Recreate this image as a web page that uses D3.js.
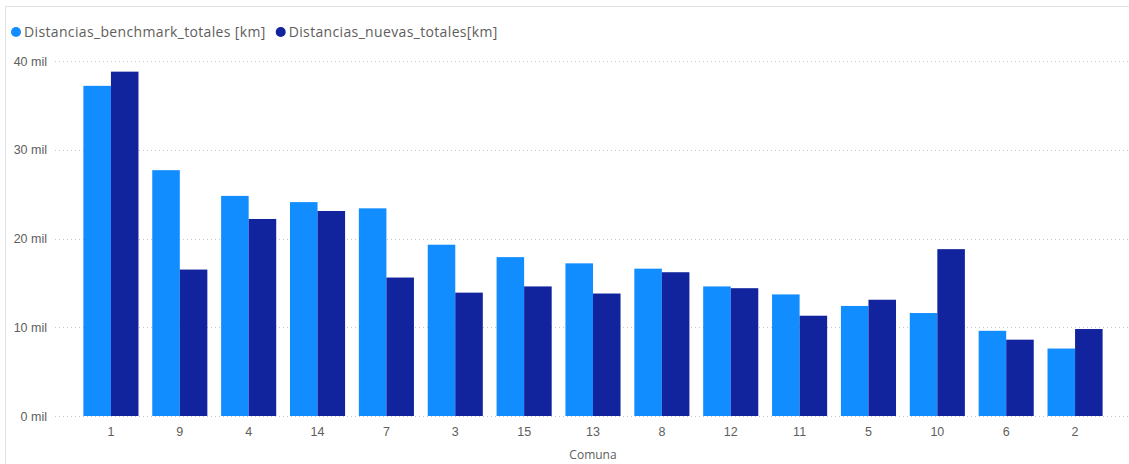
<!DOCTYPE html>
<html><head><meta charset="utf-8">
<script src="https://cdn.jsdelivr.net/npm/d3@7"></script>
<style>html,body{margin:0;padding:0;background:#fff;}svg{display:block;font-family:"Open Sans","Noto Sans",sans-serif;}</style>
</head><body>
<svg id="chart" width="1129" height="464"></svg>
<script>
const categories = ["1","9","4","14","7","3","15","13","8","12","11","5","10","6","2"];
const benchmark = [37200,27700,24800,24100,23400,19300,17900,17200,16600,14600,13700,12400,11600,9600,7600];
const nuevas = [38800,16500,22200,23100,15600,13900,14600,13800,16200,14400,11300,13100,18800,8600,9800];
const seriesNames = ["Distancias_benchmark_totales [km]","Distancias_nuevas_totales[km]"];
const colors = ["#118DFF","#12239E"];
const yTicks = [0,10000,20000,30000,40000];

const svg = d3.select("#chart");
// frame
svg.append("path").attr("d","M5.5,464 L5.5,6.5 L1129,6.5").attr("fill","none").attr("stroke","#e3e3e3").attr("stroke-width",1);

const x = d3.scaleBand().domain(categories).range([76.5,1109.5]).paddingInner(0.2).paddingOuter(0.1);
const x1 = d3.scaleBand().domain([0,1]).range([0,x.bandwidth()]);
const y = d3.scaleLinear().domain([0,40000]).range([416,61]);

// grid
svg.append("g").selectAll("line").data(yTicks).join("line")
  .attr("x1",55).attr("x2",1129).attr("y1",d=>Math.round(y(d))+0.5).attr("y2",d=>Math.round(y(d))+0.5)
  .attr("stroke","#c8c8c8").attr("stroke-width",1).attr("stroke-dasharray","1,3");

// y axis
const yAxis = d3.axisLeft(y).tickValues(yTicks).tickSize(0).tickPadding(0).tickFormat(d=>(d/1000)+" mil");
const gy = svg.append("g").attr("transform","translate(47,0)").call(yAxis);
gy.select(".domain").remove();
gy.selectAll("text").attr("fill","#605E5C").style("font-size","12.5px");

// bars
const data = categories.map((c,i)=>({c, vals:[benchmark[i],nuevas[i]]}));
const groups = svg.append("g").selectAll("g").data(data).join("g").attr("transform",d=>`translate(${x(d.c)},0)`);
groups.selectAll("rect").data(d=>d.vals.map((v,k)=>({v,k}))).join("rect")
  .attr("x",d=>x1(d.k)).attr("width",x1.bandwidth())
  .attr("y",d=>y(d.v)).attr("height",d=>y(0)-y(d.v))
  .attr("fill",d=>colors[d.k]);

// x axis
const xAxis = d3.axisBottom(x).tickSize(0).tickPadding(0);
const gx = svg.append("g").attr("transform","translate(0,427)").call(xAxis);
gx.select(".domain").remove();
gx.selectAll("text").attr("fill","#605E5C").style("font-size","12.5px");

svg.append("text").attr("x",(x.range()[0]+x.range()[1])/2).attr("y",459).attr("text-anchor","middle")
  .attr("fill","#605E5C").style("font-size","12px").text("Comuna");

// legend
const leg = svg.append("g").attr("transform","translate(0,32)");
let lx = 16;
seriesNames.forEach((n,i)=>{
  leg.append("circle").attr("cx",lx).attr("cy",0).attr("r",5).attr("fill",colors[i]);
  const t = leg.append("text").attr("x",lx+8).attr("y",0).attr("dy","0.35em").attr("fill","#605E5C")
    .style("font-size","14px").style("letter-spacing","0.35px").text(n);
  lx += 8 + t.node().getComputedTextLength() + 15;
});
</script>
</body></html>
